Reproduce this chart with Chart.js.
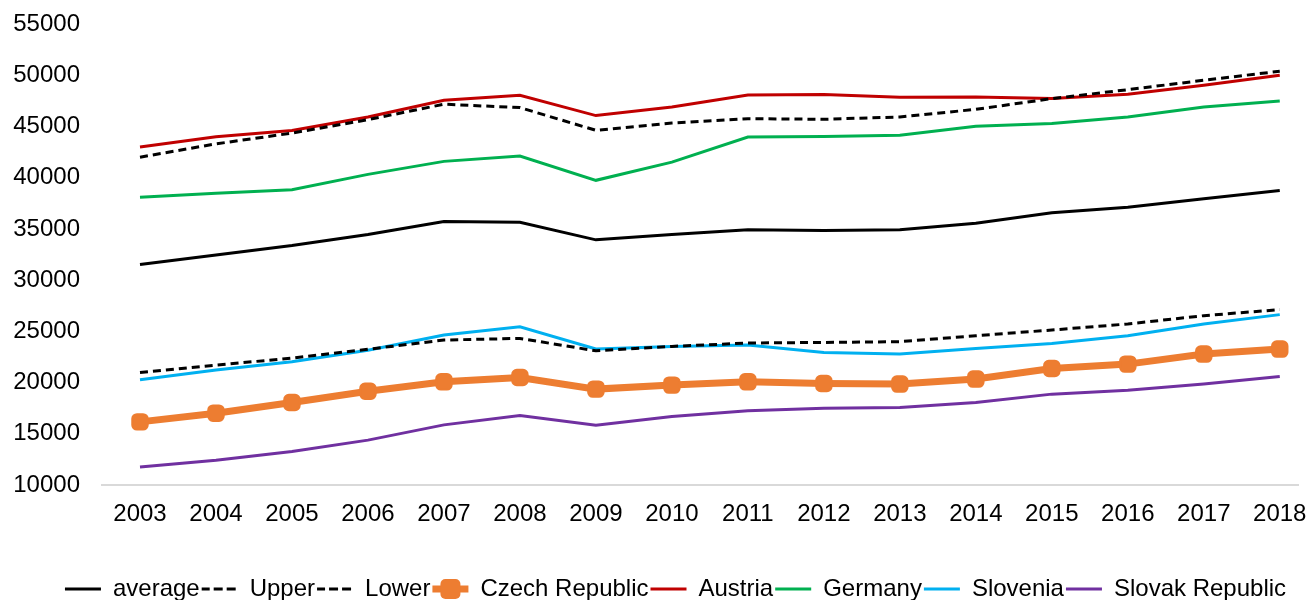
<!DOCTYPE html>
<html>
<head>
<meta charset="utf-8">
<script src="https://cdn.jsdelivr.net/npm/chart.js@4/dist/chart.umd.min.js"></script>
<style>
  html, body { margin: 0; padding: 0; background: #fff; overflow: hidden; }
  #wrap { width: 1309px; height: 600px; }
</style>
</head>
<body>
<div id="wrap"><canvas id="gdpChart"></canvas></div>
<script>
// years on the x axis
const years = [2003, 2004, 2005, 2006, 2007, 2008, 2009, 2010, 2011, 2012, 2013, 2014, 2015, 2016, 2017, 2018];
const yTicks = [10000, 15000, 20000, 25000, 30000, 35000, 40000, 45000, 50000, 55000];

// series values
const average = [31520, 32460, 33370, 34450, 35720, 35650, 33930, 34450, 34910, 34840, 34910, 35560, 36570, 37120, 37940, 38750];
const upper = [42000, 43300, 44350, 45660, 47170, 46840, 44620, 45340, 45760, 45700, 45920, 46670, 47720, 48590, 49510, 50390];
const lower = [20980, 21700, 22390, 23250, 24150, 24310, 23100, 23530, 23860, 23920, 23990, 24570, 25130, 25720, 26530, 27120];
const czech = [16160, 17010, 18050, 19150, 20070, 20490, 19360, 19750, 20070, 19910, 19850, 20340, 21370, 21800, 22780, 23270];
const austria = [43000, 44000, 44600, 45920, 47550, 48040, 46060, 46900, 48070, 48110, 47850, 47880, 47720, 48140, 49020, 50000];
const germany = [38100, 38490, 38820, 40320, 41590, 42110, 39740, 41520, 43970, 44030, 44130, 45010, 45280, 45920, 46900, 47490];
const slovenia = [20270, 21220, 22030, 23150, 24640, 25450, 23270, 23530, 23660, 22940, 22780, 23330, 23820, 24570, 25720, 26630];
const slovak = [11760, 12420, 13260, 14380, 15870, 16780, 15840, 16680, 17240, 17500, 17560, 18050, 18870, 19260, 19850, 20600];

const toPoints = vals => years.map((yr, i) => ({ x: yr, y: vals[i] }));

function lineSet(label, vals, color, width, dash) {
    return {
        label: label,
        data: toPoints(vals),
        borderColor: color,
        backgroundColor: color,
        borderWidth: width,
        borderDash: dash || [],
        pointRadius: 0,
        pointHoverRadius: 0,
        tension: 0,
        fill: false
    };
}

const czechSet = lineSet('Czech Republic', czech, '#ED7D31', 7);
czechSet.pointStyle = 'rectRounded';
czechSet.pointRadius = 9;
czechSet.pointBorderWidth = 2;
czechSet.pointBackgroundColor = '#ED7D31';
czechSet.pointBorderColor = '#ED7D31';

// nudge the legend a bit right and down, like the original
const legendShift = {
    id: 'legendShift',
    afterLayout(chart) {
        const lg = chart.legend;
        if (!lg) return;
        lg.left += 21; lg.right += 21;
        lg.top += 11; lg.bottom += 11;
        if (lg.adjustHitBoxes) lg.adjustHitBoxes();
    }
};

// draws the square marker on the Czech Republic legend sample
const legendMarker = {
    id: 'legendMarker',
    afterDraw(chart) {
        const lg = chart.legend;
        if (!lg || !lg.legendHitBoxes) return;
        const hb = lg.legendHitBoxes[3];
        if (!hb) return;
        const cx = hb.left + lg.options.labels.boxWidth / 2;
        const cy = lg.top + lg.options.labels.padding + 12;
        const s = 10, r = 5;
        const c = chart.ctx;
        c.save();
        c.fillStyle = '#ED7D31';
        c.beginPath();
        c.moveTo(cx - s + r, cy - s);
        c.arcTo(cx + s, cy - s, cx + s, cy + s, r);
        c.arcTo(cx + s, cy + s, cx - s, cy + s, r);
        c.arcTo(cx - s, cy + s, cx - s, cy - s, r);
        c.arcTo(cx - s, cy - s, cx + s, cy - s, r);
        c.closePath();
        c.fill();
        c.restore();
    }
};

Chart.defaults.font.family = '"Liberation Sans", Arial, sans-serif';
Chart.defaults.font.size = 24;
Chart.defaults.color = '#000';

const ctx = document.getElementById('gdpChart').getContext('2d');
const chart = new Chart(ctx, {
    type: 'line',
    data: {
        datasets: [
            lineSet('average', average, '#000000', 3),
            lineSet('Upper', upper, '#000000', 3, [8, 5]),
            lineSet('Lower', lower, '#000000', 3, [8, 5]),
            czechSet,
            lineSet('Austria', austria, '#C00000', 3),
            lineSet('Germany', germany, '#00B050', 3),
            lineSet('Slovenia', slovenia, '#00B0F0', 3),
            lineSet('Slovak Republic', slovak, '#7030A0', 3)
        ]
    },
    options: {
        responsive: true,
        maintainAspectRatio: false,
        animation: false,
        layout: { padding: { left: 0, right: 0, top: 24, bottom: 0 } },
        plugins: {
            tooltip: { enabled: false },
            legend: {
                position: 'bottom',
                labels: {
                    boxWidth: 36,
                    boxHeight: 0,
                    padding: 2,
                    color: '#000'
                }
            }
        },
        scales: {
            x: {
                type: 'linear',
                min: 2002.5,
                max: 2018.24,
                afterBuildTicks: axis => { axis.ticks = years.map(v => ({ value: v })); },
                afterFit: axis => { axis.height = 79; axis.paddingLeft = 0; axis.paddingRight = 0; },
                grid: { display: false, drawTicks: false },
                border: { display: true, color: '#D9D9D9', width: 2 },
                ticks: {
                    padding: 15,
                    autoSkip: false,
                    maxRotation: 0,
                    callback: v => String(v)
                }
            },
            y: {
                min: 10000,
                max: 55000,
                afterBuildTicks: axis => { axis.ticks = yTicks.map(v => ({ value: v })); },
                afterFit: axis => { axis.width = 102; axis.paddingTop = 0; axis.paddingBottom = 0; },
                grid: { display: false, drawTicks: false },
                border: { display: false },
                ticks: {
                    padding: 22,
                    callback: v => String(v)
                }
            }
        }
    },
    plugins: [legendShift, legendMarker]
});
</script>
</body>
</html>
